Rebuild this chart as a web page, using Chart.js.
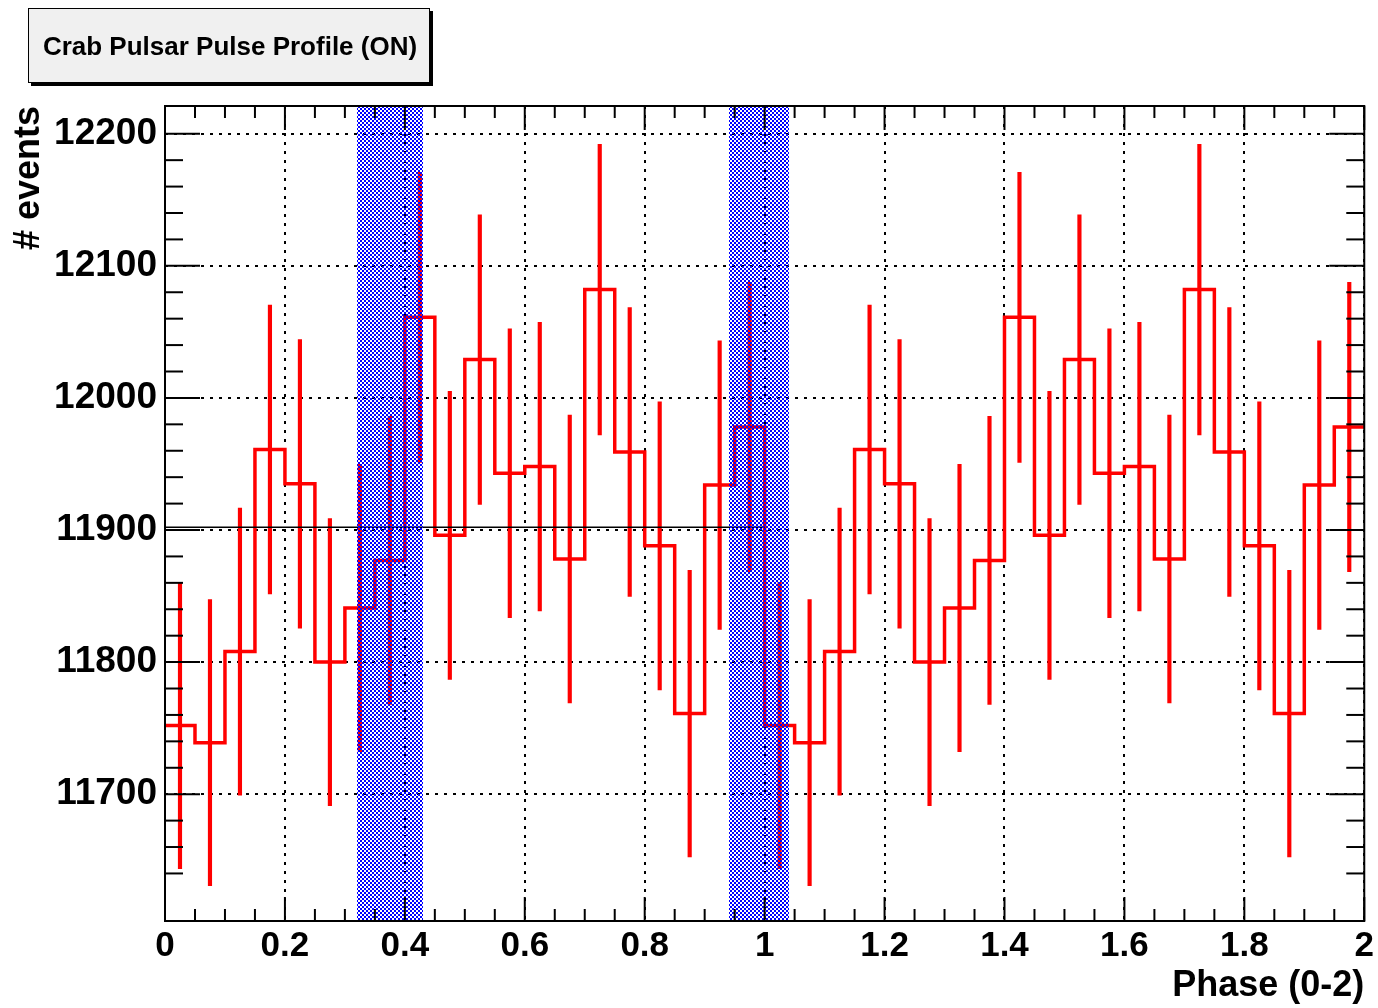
<!DOCTYPE html>
<html>
<head>
<meta charset="utf-8">
<script src="https://cdn.jsdelivr.net/npm/chart.js@4/dist/chart.umd.min.js"></script>
<style>
  html, body { margin: 0; padding: 0; background: #fff; }
  #wrap { width: 1378px; height: 1008px; position: relative; }
</style>
</head>
<body>
<div id="wrap"><canvas id="profile"></canvas></div>
<script>
// pulse profile, 40 bins over phase 0-2 (one period shown twice)
const counts = [
  11752, 11739, 11808, 11961, 11935, 11800, 11841, 11877, 12061, 11896,
  12029, 11943, 11948, 11878, 12082, 11959, 11888, 11761, 11934, 11978,
  11752, 11739, 11808, 11961, 11935, 11800, 11841, 11877, 12061, 11896,
  12029, 11943, 11948, 11878, 12082, 11959, 11888, 11761, 11934, 11978,
];
const binWidth = 0.05;
const meanLevel = 11902;
const meanRange = [0, 1];
// shaded phase windows
const onRegions = [[0.32, 0.43], [0.94, 1.04]];

const errors = counts.map(Math.sqrt);
const binLeft = counts.map((_, i) => i * binWidth);
const binCenter = binLeft.map((x) => x + binWidth / 2);

const FONT = "'Liberation Sans', Arial, Helvetica, sans-serif";

// each bin starts at its left edge; last point closes the final bin
const stepPoints = binLeft.map((x, i) => ({ x: x, y: counts[i] }));
stepPoints.push({ x: counts.length * binWidth, y: counts[counts.length - 1] });

const isMajorX = (v) => Math.round(v * 20) % 4 === 0;

function checker() {
  const c = document.createElement('canvas');
  c.width = 4; c.height = 4;
  const g = c.getContext('2d');
  g.fillStyle = 'rgb(0,0,255)';
  g.fillRect(0, 0, 2, 2);
  g.fillRect(2, 2, 2, 2);
  return c;
}

const shading = {
  id: 'shading',
  afterDatasetsDraw(chart) {
    const { ctx, chartArea: a, scales: { x } } = chart;
    const pat = ctx.createPattern(checker(), 'repeat');
    ctx.save();
    ctx.fillStyle = pat;
    onRegions.forEach(([lo, hi]) => {
      const x0 = Math.round(x.getPixelForValue(lo));
      const x1 = Math.round(x.getPixelForValue(hi));
      ctx.fillRect(x0, a.top, x1 - x0, a.bottom - a.top);
    });
    ctx.restore();
  },
};

const frameTicks = {
  id: 'frameTicks',
  afterDraw(chart) {
    const { ctx, chartArea: a, scales: { x, y } } = chart;
    ctx.save();
    ctx.strokeStyle = '#000';
    ctx.lineWidth = 2;
    const seg = (x0, y0, x1, y1) => {
      ctx.beginPath(); ctx.moveTo(x0, y0); ctx.lineTo(x1, y1); ctx.stroke();
    };
    x.ticks.forEach((t) => {
      const px = x.getPixelForValue(t.value);
      const len = isMajorX(t.value) ? 24 : 12;
      seg(px, a.bottom, px, a.bottom - len);
      seg(px, a.top, px, a.top + len);
    });
    y.ticks.forEach((t) => {
      if (t.value % 20 !== 0) return;
      const py = y.getPixelForValue(t.value);
      const len = t.value % 100 === 0 ? 35 : 18;
      seg(a.left, py, a.left + len, py);
      seg(a.right, py, a.right - len, py);
    });
    ctx.strokeRect(a.left, a.top, a.right - a.left, a.bottom - a.top);
    ctx.restore();
  },
};

const titleBox = {
  id: 'titleBox',
  afterDraw(chart) {
    const ctx = chart.ctx;
    ctx.save();
    ctx.fillStyle = '#000';
    ctx.fillRect(31, 11, 402, 75);
    ctx.fillStyle = '#f0f0f0';
    ctx.fillRect(28, 8, 402, 75);
    ctx.strokeStyle = '#000';
    ctx.lineWidth = 1;
    ctx.strokeRect(28.5, 8.5, 401, 74);
    ctx.fillStyle = '#000';
    ctx.font = 'bold 26px ' + FONT;
    ctx.textAlign = 'center';
    ctx.textBaseline = 'middle';
    ctx.fillText('Crab Pulsar Pulse Profile (ON)', 230, 48);
    ctx.restore();
  },
};

new Chart(document.getElementById('profile').getContext('2d'), {
  type: 'line',
  data: {
    datasets: [
      {
        type: 'bar',
        data: binCenter.map((x, i) => ({ x: x, y: [counts[i] - errors[i], counts[i] + errors[i]] })),
        backgroundColor: 'rgb(255,0,0)',
        borderWidth: 0,
        barThickness: 3.5,
        grouped: false,
        order: 2,
      },
      {
        data: stepPoints,
        stepped: 'before',
        borderColor: 'rgb(255,0,0)',
        borderWidth: 3.5,
        pointRadius: 0,
        fill: false,
        order: 1,
      },
      {
        data: meanRange.map((x) => ({ x: x, y: meanLevel })),
        borderColor: '#000',
        borderWidth: 1.5,
        pointRadius: 0,
        fill: false,
        order: 0,
      },
    ],
  },
  options: {
    responsive: true,
    maintainAspectRatio: false,
    animation: false,
    layout: {
      padding: { top: 106, right: 13, left: 0, bottom: 0 },
    },
    plugins: {
      legend: { display: false },
      tooltip: { enabled: false },
    },
    scales: {
      x: {
        type: 'linear',
        min: 0,
        max: 2,
        offset: false,
        afterFit: (s) => { s.height = 87; },
        border: { display: false, dash: [3, 6] },
        grid: {
          offset: false,
          drawTicks: false,
          lineWidth: 2,
          color: (c) => (c.tick && isMajorX(c.tick.value) ? '#000' : 'rgba(0,0,0,0)'),
        },
        ticks: {
          stepSize: 0.05,
          autoSkip: false,
          maxRotation: 0,
          padding: 4,
          color: '#000',
          font: { family: FONT, size: 35, weight: 'bold' },
          callback: (v) => (isMajorX(v) ? String(Math.round(v * 10) / 10) : ''),
        },
        title: {
          display: true,
          text: 'Phase (0-2)',
          align: 'end',
          color: '#000',
          padding: 0,
          font: { family: FONT, size: 36, weight: 'bold' },
        },
      },
      y: {
        type: 'linear',
        min: 11604,
        max: 12221,
        afterFit: (s) => { s.width = 165; },
        border: { display: false, dash: [3, 6] },
        grid: {
          drawTicks: false,
          lineWidth: 2,
          color: (c) => (c.tick && c.tick.value % 100 === 0 ? '#000' : 'rgba(0,0,0,0)'),
        },
        ticks: {
          stepSize: 20,
          autoSkip: false,
          padding: 8,
          color: '#000',
          font: { family: FONT, size: 37, weight: 'bold' },
          callback: (v) => (v % 100 === 0 ? String(v) : ''),
        },
        title: {
          display: true,
          text: '# events',
          align: 'end',
          color: '#000',
          padding: { top: 7, bottom: 0 },
          font: { family: FONT, size: 36, weight: 'bold' },
        },
      },
    },
  },
  plugins: [shading, frameTicks, titleBox],
});
</script>
</body>
</html>
